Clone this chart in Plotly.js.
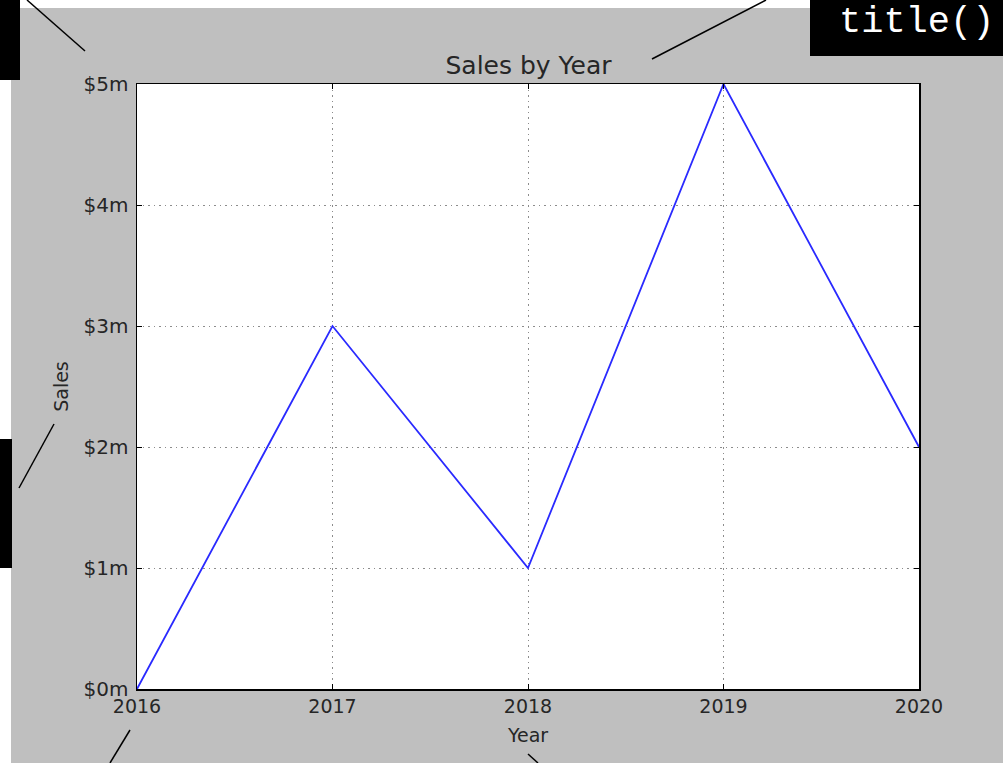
<!DOCTYPE html>
<html>
<head>
<meta charset="utf-8">
<script src="https://cdn.plot.ly/plotly-3.0.1.min.js"></script>
<style>html,body{margin:0;padding:0;background:#fff;}#chart{width:1003px;height:763px;}</style>
</head>
<body>
<div id="chart"></div>
<script>
// Data
const years = [2016, 2017, 2018, 2019, 2020];
const sales = [0, 3000000, 1000000, 5000000, 2000000];
const yTickVals = [0, 1000000, 2000000, 3000000, 4000000, 5000000];
const yTickText = ['$0m', '$1m', '$2m', '$3m', '$4m', '$5m'];
const xTickVals = [2016, 2017, 2018, 2019, 2020];

// Pixel geometry helpers (figure is 1003x763)
const W = 1003, H = 763;
const L = 137, R = 919, T = 84, B = 689;
const px = x => (x - L) / (R - L);
const py = y => (B - y) / (B - T);

const shapes = [
  // grey figure background
  {type:'rect', xref:'paper', yref:'paper', x0:px(11), x1:px(1003), y0:py(763), y1:py(8),
   fillcolor:'#bfbfbf', line:{width:0}, layer:'below'},
  // white plot area
  {type:'rect', xref:'paper', yref:'paper', x0:0, x1:1, y0:0, y1:1,
   fillcolor:'#ffffff', line:{width:0}, layer:'below'},
  // black boxes
  {type:'rect', xref:'paper', yref:'paper', x0:px(0), x1:px(20), y0:py(80), y1:py(0),
   fillcolor:'#000', line:{width:0}, layer:'below'},
  {type:'rect', xref:'paper', yref:'paper', x0:px(0), x1:px(12), y0:py(568), y1:py(439),
   fillcolor:'#000', line:{width:0}, layer:'below'},
  {type:'rect', xref:'paper', yref:'paper', x0:px(810), x1:px(1003), y0:py(56), y1:py(0),
   fillcolor:'#000', line:{width:0}, layer:'below'},
  // pointer lines
  {type:'line', xref:'paper', yref:'paper', x0:px(27), y0:py(0), x1:px(85), y1:py(51), line:{color:'#000', width:1.5}},
  {type:'line', xref:'paper', yref:'paper', x0:px(766), y0:py(0), x1:px(652), y1:py(59), line:{color:'#000', width:1.5}},
  {type:'line', xref:'paper', yref:'paper', x0:px(54), y0:py(424), x1:px(19), y1:py(488), line:{color:'#000', width:1.5}},
  {type:'line', xref:'paper', yref:'paper', x0:px(130), y0:py(730), x1:px(110), y1:py(763), line:{color:'#000', width:1.5}},
  {type:'line', xref:'paper', yref:'paper', x0:px(528), y0:py(754), x1:px(538), y1:py(763), line:{color:'#000', width:1.5}}
];

const annotations = [
  {xref:'paper', yref:'paper', x:px(916), y:py(22), text:'title()', showarrow:false,
   xanchor:'center', yanchor:'middle', borderpad:0,
   font:{family:'Liberation Mono, DejaVu Sans Mono, monospace', size:37, color:'#fff'}}
];

const trace = {
  x: years, y: sales, type:'scatter', mode:'lines',
  line:{color:'#2a2aff', width:1.8}, hoverinfo:'skip'
};

const axisFont = {family:'DejaVu Sans, sans-serif', size:19, color:'#262626'};
const titleFont = {family:'DejaVu Sans, sans-serif', size:19, color:'#262626'};
const gridDash = '1.5px,4px';
const gridColor = '#8c8c8c';

const layout = {
  width: W, height: H,
  margin:{l:L, r:W-R, t:T, b:H-B, pad:0},
  paper_bgcolor:'#ffffff',
  plot_bgcolor:'#ffffff',
  showlegend:false,
  title:{text:'Sales by Year', xref:'container', x:528.5/W, xanchor:'center', y:1-65/H, yanchor:'middle',
         font:{family:'DejaVu Sans, sans-serif', size:25, color:'#262626'}},
  xaxis:{
    range:[2016, 2020], tickvals:xTickVals, ticktext:xTickVals.map(String),
    ticks:'inside', ticklen:5, tickcolor:'#000', tickwidth:1,
    showline:true, linecolor:'#000', linewidth:1.5, mirror:'ticks',
    showgrid:true, gridcolor:gridColor, griddash:gridDash, gridwidth:1,
    zeroline:false, tickfont:axisFont,
    title:{text:'Year', font:titleFont, standoff:12},
    automargin:false
  },
  yaxis:{
    range:[0, 5000000], tickvals:yTickVals, ticktext:yTickText,
    ticks:'inside', ticklen:5, tickcolor:'#000', tickwidth:1,
    showline:true, linecolor:'#000', linewidth:1.5, mirror:'ticks',
    showgrid:true, gridcolor:gridColor, griddash:gridDash, gridwidth:1,
    zeroline:false, tickfont:{family:'DejaVu Sans, sans-serif', size:20, color:'#262626'},
    ticklabelstandoff:3,
    title:{text:'Sales', font:titleFont, standoff:10},
    automargin:false
  },
  shapes: shapes,
  annotations: annotations
};

Plotly.newPlot('chart', [trace], layout, {displayModeBar:false, staticPlot:true});
</script>
</body>
</html>
